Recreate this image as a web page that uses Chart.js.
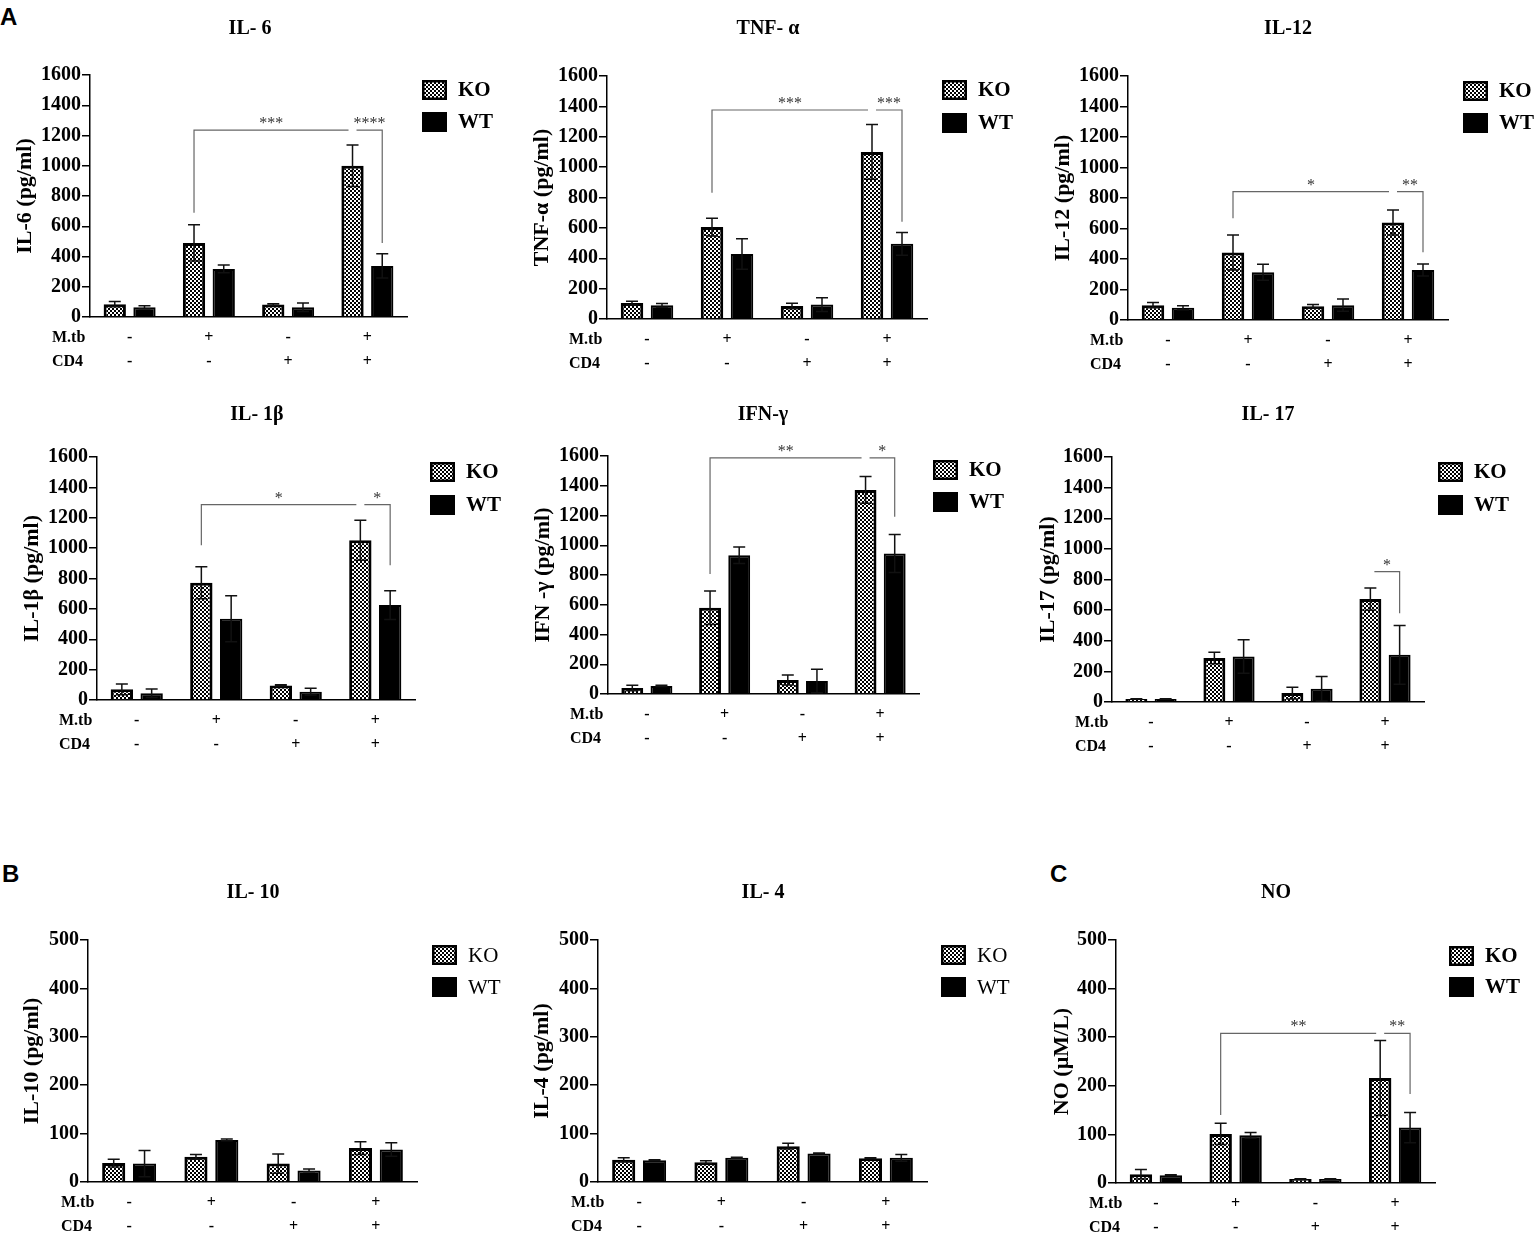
<!DOCTYPE html>
<html>
<head>
<meta charset="utf-8">
<script src="https://cdn.jsdelivr.net/npm/chart.js@4.4.1/dist/chart.umd.min.js"></script>
<style>
body{margin:0;background:#fff;}
#fig{position:relative;width:1535px;height:1236px;background:#fff;overflow:hidden;}
#fig canvas{position:absolute;}
.tag{position:absolute;font:bold 24px "Liberation Sans",Arial,sans-serif;line-height:24px;color:#000;}
</style>
</head>
<body>
<div id="fig">
  <div class="tag" style="left:0;top:5px">A</div>
  <div class="tag" style="left:2px;top:862px">B</div>
  <div class="tag" style="left:1050px;top:862px">C</div>
</div>
<script>
// categories (M.tb / CD4 rows under each group)
const rowNames = ["M.tb", "CD4"];
const mtbRow = ["-", "+", "-", "+"];
const cd4Row = ["-", "-", "+", "+"];
const seriesNames = ["KO", "WT"];

// values (mean / error)
const il6KO = [85, 490, 82, 1000],   il6KOErr = [18, 120, 6, 137];
const il6WT = [65, 318, 65, 338],    il6WTErr = [10, 25, 28, 80];
const tnfKO = [105, 605, 85, 1100],  tnfKOErr = [12, 58, 18, 180];
const tnfWT = [90, 428, 95, 495],    tnfWTErr = [12, 100, 45, 75];
const il12KO = [97, 443, 90, 640],   il12KOErr = [17, 115, 12, 82];
const il12WT = [80, 313, 97, 328],   il12WTErr = [13, 52, 40, 40];
const il1bKO = [70, 772, 96, 1052],  il1bKOErr = [35, 105, 4, 132];
const il1bWT = [44, 535, 55, 625],   il1bWTErr = [28, 152, 22, 95];
const ifnKO = [40, 580, 94, 1372],   ifnKOErr = [18, 112, 34, 90];
const ifnWT = [54, 933, 87, 944],    ifnWTErr = [4, 56, 79, 128];
const il17KO = [20, 287, 58, 672],   il17KOErr = [2, 38, 38, 72];
const il17WT = [20, 297, 87, 308],   il17WTErr = [2, 110, 80, 192];
const il10KO = [39, 52, 38, 70],     il10KOErr = [8, 5, 20, 13];
const il10WT = [38, 87, 24, 67],     il10WTErr = [27, 2, 3, 14];
const il4KO = [46, 41, 74, 49],      il4KOErr = [4, 3, 6, 1];
const il4WT = [45, 50, 59, 50],      il4WTErr = [1, 1, 1, 7];
const noKO = [18, 101, 8, 216],      noKOErr = [10, 22, 1, 77];
const noWT = [16, 98, 8, 114],       noWTErr = [1, 6, 1, 31];

// significance brackets: a/b = [group, series], level/drops in data units
const il6Sig  = [{a:[1,0], b:[3,0], level:1235, dropA:690, label:"***"},
                 {a:[3,0], b:[3,1], level:1235, dropB:490, label:"****"}];
const tnfSig  = [{a:[1,0], b:[3,0], level:1376, dropA:832, label:"***"},
                 {a:[3,0], b:[3,1], level:1376, dropB:641, label:"***"}];
const il12Sig = [{a:[1,0], b:[3,0], level:842, dropA:667, label:"*"},
                 {a:[3,0], b:[3,1], level:842, dropB:444, label:"**"}];
const il1bSig = [{a:[1,0], b:[3,0], level:1287, dropA:1019, label:"*"},
                 {a:[3,0], b:[3,1], level:1287, dropB:888, label:"*"}];
const ifnSig  = [{a:[1,0], b:[3,0], level:1587, dropA:806, label:"**"},
                 {a:[3,0], b:[3,1], level:1587, dropB:1191, label:"*"}];
const il17Sig = [{a:[3,0], b:[3,1], level:851, dropB:580, label:"*"}];
const noSig   = [{a:[1,0], b:[3,0], level:308, dropA:140, label:"**"},
                 {a:[3,0], b:[3,1], level:308, dropB:183, label:"**"}];

const SERIF = '"Liberation Serif","Times New Roman",serif';
const X_H = 50;
const ROW_PAD = 8, ROW_LH = 24.8;

const panels = [
  {title:"IL- 6",  yTitle:"IL-6 (pg/ml)",   max:1600, step:200, ko:il6KO,  koErr:il6KOErr,  wt:il6WT,  wtErr:il6WTErr,  sig:il6Sig,  boldLegend:true},
  {title:"TNF- α", yTitle:"TNF-α (pg/ml)",  max:1600, step:200, ko:tnfKO,  koErr:tnfKOErr,  wt:tnfWT,  wtErr:tnfWTErr,  sig:tnfSig,  boldLegend:true},
  {title:"IL-12",  yTitle:"IL-12 (pg/ml)",  max:1600, step:200, ko:il12KO, koErr:il12KOErr, wt:il12WT, wtErr:il12WTErr, sig:il12Sig, boldLegend:true},
  {title:"IL- 1β", yTitle:"IL-1β (pg/ml)",  max:1600, step:200, ko:il1bKO, koErr:il1bKOErr, wt:il1bWT, wtErr:il1bWTErr, sig:il1bSig, boldLegend:true},
  {title:"IFN-γ",  yTitle:"IFN -γ (pg/ml)", max:1600, step:200, ko:ifnKO,  koErr:ifnKOErr,  wt:ifnWT,  wtErr:ifnWTErr,  sig:ifnSig,  boldLegend:true},
  {title:"IL- 17", yTitle:"IL-17 (pg/ml)",  max:1600, step:200, ko:il17KO, koErr:il17KOErr, wt:il17WT, wtErr:il17WTErr, sig:il17Sig, boldLegend:true},
  {title:"IL- 10", yTitle:"IL-10 (pg/ml)",  max:500,  step:100, ko:il10KO, koErr:il10KOErr, wt:il10WT, wtErr:il10WTErr, sig:[],      boldLegend:false},
  {title:"IL- 4",  yTitle:"IL-4 (pg/ml)",   max:500,  step:100, ko:il4KO,  koErr:il4KOErr,  wt:il4WT,  wtErr:il4WTErr,  sig:[],      boldLegend:false},
  {title:"NO",     yTitle:"NO (µM/L)",      max:500,  step:100, ko:noKO,   koErr:noKOErr,   wt:noWT,   wtErr:noWTErr,   sig:noSig,   boldLegend:true}
];

// page layout (page pixels): cell, plot area, title, y-title x, legend box x + row centres, row label x
const layouts = [
  {cell:[0,0,510,385],      area:[90,75,407,317],      title:[250,29],   yt:25,   leg:[422,90,122],    rowX:52},
  {cell:[510,0,520,385],    area:[607,76,927,319],     title:[768,29],   yt:542,  leg:[942,90,123],    rowX:569},
  {cell:[1030,0,505,385],   area:[1128,76,1448,320],   title:[1288,29],  yt:1063, leg:[1463,91,123],   rowX:1090},
  {cell:[0,385,510,395],    area:[97,457,415,700],     title:[257,415],  yt:32,   leg:[430,472,505],   rowX:59},
  {cell:[510,385,520,395],  area:[608,456,919,694],    title:[763,415],  yt:543,  leg:[933,470,502],   rowX:570},
  {cell:[1030,385,505,395], area:[1112,457,1424,702],  title:[1268,415], yt:1048, leg:[1438,472,505],  rowX:1075},
  {cell:[0,850,510,386],    area:[88,940,417,1182],    title:[253,893],  yt:32,   leg:[432,955,987],   rowX:61},
  {cell:[510,850,520,386],  area:[598,940,927,1182],   title:[763,893],  yt:542,  leg:[941,955,987],   rowX:571},
  {cell:[1030,850,505,386], area:[1116,940,1435,1183], title:[1276,893], yt:1062, leg:[1449,956,987],  rowX:1089}
];

function makeChecker() {
  const c = document.createElement("canvas");
  c.width = 4; c.height = 4;
  const g = c.getContext("2d");
  g.fillStyle = "#fff"; g.fillRect(0, 0, 4, 4);
  g.fillStyle = "#000"; g.fillRect(0, 0, 2, 2); g.fillRect(2, 2, 2, 2);
  return g.createPattern(c, "repeat");
}

function decoPlugin(p, L) {
  const cx = L.cell[0], cy = L.cell[1];
  return {
    id: "deco",
    afterDatasetsDraw(chart) {
      const ctx = chart.ctx, ys = chart.scales.y;
      ctx.save();
      // error bars
      ctx.strokeStyle = "#111";
      ctx.lineWidth = 1.5;
      chart.data.datasets.forEach((ds, d) => {
        chart.getDatasetMeta(d).data.forEach((bar, i) => {
          const v = ds.data[i], e = ds.errors[i];
          const top = ys.getPixelForValue(v + e);
          const bot = ys.getPixelForValue(Math.max(0, v - e));
          ctx.beginPath();
          ctx.moveTo(bar.x, bot); ctx.lineTo(bar.x, top);
          ctx.moveTo(bar.x - 6, top); ctx.lineTo(bar.x + 6, top);
          ctx.moveTo(bar.x - 6, bot); ctx.lineTo(bar.x + 6, bot);
          ctx.stroke();
        });
      });
      // significance brackets
      const px = ([g, d]) => chart.getDatasetMeta(d).data[g].x;
      ctx.strokeStyle = "#666";
      ctx.lineWidth = 1.2;
      ctx.fillStyle = "#333";
      ctx.font = "16px " + SERIF;
      ctx.textAlign = "center";
      ctx.textBaseline = "alphabetic";
      p.sig.forEach(s => {
        let xa = px(s.a), xb = px(s.b);
        if (s.dropA == null) xa += 4;
        if (s.dropB == null) xb -= 4;
        const yl = ys.getPixelForValue(s.level);
        ctx.beginPath();
        if (s.dropA != null) {
          ctx.moveTo(xa, ys.getPixelForValue(s.dropA));
          ctx.lineTo(xa, yl);
        } else {
          ctx.moveTo(xa, yl);
        }
        ctx.lineTo(xb, yl);
        if (s.dropB != null) ctx.lineTo(xb, ys.getPixelForValue(s.dropB));
        ctx.stroke();
        ctx.fillText(s.label, (xa + xb) / 2, yl - 2);
      });
      ctx.restore();
    },
    afterDraw(chart) {
      const ctx = chart.ctx, xs = chart.scales.x;
      ctx.save();
      ctx.fillStyle = "#000";
      // panel title
      ctx.font = "bold 20px " + SERIF;
      ctx.textAlign = "center";
      ctx.textBaseline = "middle";
      ctx.fillText(p.title, L.title[0] - cx, L.title[1] - cy);
      // legend
      const bx = L.leg[0] - cx;
      chart.data.datasets.forEach((ds, k) => {
        const ly = L.leg[1 + k] - cy;
        ctx.fillStyle = ds.backgroundColor;
        ctx.fillRect(bx, ly - 10, 25, 20);
        ctx.strokeStyle = "#000";
        ctx.lineWidth = 2.5;
        ctx.strokeRect(bx + 1.25, ly - 8.75, 22.5, 17.5);
        ctx.fillStyle = "#000";
        ctx.font = (p.boldLegend ? "bold " : "") + "21px " + SERIF;
        ctx.textAlign = "left";
        ctx.fillText(ds.label, bx + 36, ly + 1);
      });
      // row names under the axis
      ctx.font = "bold 16px " + SERIF;
      ctx.textAlign = "left";
      rowNames.forEach((r, i) => {
        ctx.fillText(r, L.rowX - cx, xs.top + ROW_PAD + ROW_LH / 2 + i * ROW_LH);
      });
      ctx.restore();
    }
  };
}

const checker = makeChecker();
const fig = document.getElementById("fig");
const groupLabels = mtbRow.map((m, i) => [m, cd4Row[i]]);

panels.forEach((p, n) => {
  const L = layouts[n];
  const [cx, cy, cw, ch] = L.cell;
  const [al, at, ar, ab] = L.area;
  const cv = document.createElement("canvas");
  cv.width = cw; cv.height = ch;
  cv.style.left = cx + "px";
  cv.style.top = cy + "px";
  fig.appendChild(cv);

  new Chart(cv, {
    type: "bar",
    data: {
      labels: groupLabels,
      datasets: [
        {label: seriesNames[0], data: p.ko, errors: p.koErr, backgroundColor: checker,
         borderColor: "#000", borderWidth: 3, categoryPercentage: 0.75, barPercentage: 0.75},
        {label: seriesNames[1], data: p.wt, errors: p.wtErr, backgroundColor: "#000",
         borderColor: "#000", borderWidth: 2, categoryPercentage: 0.75, barPercentage: 0.75}
      ]
    },
    options: {
      responsive: false,
      animation: false,
      events: [],
      layout: {padding: {left: 0, top: at - cy, right: cx + cw - ar, bottom: cy + ch - ab - X_H}},
      plugins: {legend: {display: false}, tooltip: {enabled: false}, title: {display: false}},
      scales: {
        x: {
          offset: true,
          grid: {display: false, drawTicks: false},
          border: {display: true, color: "#000", width: 1.5},
          ticks: {color: "#000", font: {family: SERIF, size: 16, weight: "bold", lineHeight: ROW_LH / 16},
                  padding: ROW_PAD, maxRotation: 0, autoSkip: false},
          afterFit: s => { s.height = X_H; }
        },
        y: {
          min: 0, max: p.max,
          grid: {drawOnChartArea: false, drawTicks: true, tickLength: 8, color: "#000", lineWidth: 1.5},
          border: {display: true, color: "#000", width: 1.5},
          ticks: {stepSize: p.step, color: "#000", padding: 1,
                  font: {family: SERIF, size: 20, weight: "bold"},
                  callback: v => String(v)},
          title: {display: true, text: p.yTitle, color: "#000",
                  font: {family: SERIF, size: 22, weight: "bold"},
                  padding: {top: L.yt - cx - 13.2, bottom: 0}},
          afterFit: s => { s.width = al - cx; }
        }
      }
    },
    plugins: [decoPlugin(p, L)]
  });
});
</script>
</body>
</html>
